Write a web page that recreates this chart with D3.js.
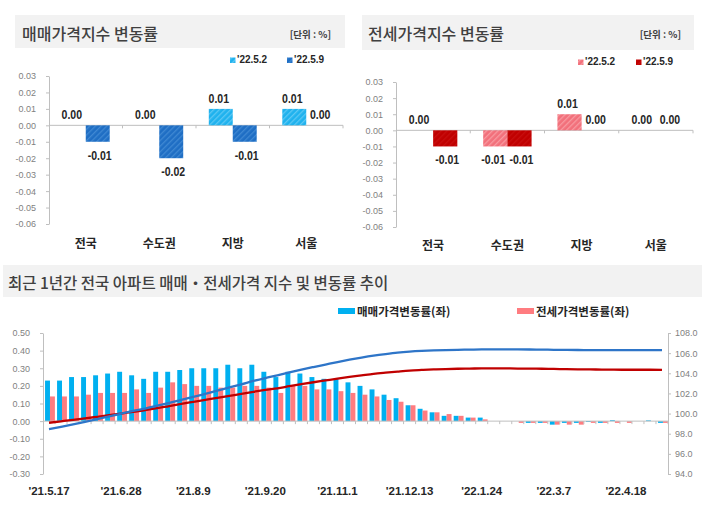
<!DOCTYPE html>
<html><head><meta charset="utf-8">
<script src="https://cdn.jsdelivr.net/npm/d3@7"></script>
<style>
body{margin:0;background:#fff;}
svg{display:block;}
</style></head><body>
<svg id="c" width="710" height="510"></svg>
<script>
// ---------- data ----------
const regions = ["전국", "수도권", "지방", "서울"];
const periods = ["'22.5.2", "'22.5.9"];
const saleChange0502 = [0.00, 0.00, 0.01, 0.01];
const saleChange0509 = [-0.01, -0.02, -0.01, 0.00];
const jeonseChange0502 = [0.00, -0.01, 0.01, 0.00];
const jeonseChange0509 = [-0.01, -0.01, 0.00, 0.00];
const topTicks = [0.03, 0.02, 0.01, 0.00, -0.01, -0.02, -0.03, -0.04, -0.05, -0.06];
const topTickLabels = ["0.03", "0.02", "0.01", "0.00", "-0.01", "-0.02", "-0.03", "-0.04", "-0.05", "-0.06"];

const weeks = ["21.5.17","21.5.24","21.5.31","21.6.7","21.6.14","21.6.21","21.6.28","21.7.5","21.7.12","21.7.19",
  "21.7.26","21.8.2","21.8.9","21.8.16","21.8.23","21.8.30","21.9.6","21.9.13","21.9.20","21.9.27",
  "21.10.4","21.10.11","21.10.18","21.10.25","21.11.1","21.11.8","21.11.15","21.11.22","21.11.29","21.12.6",
  "21.12.13","21.12.20","21.12.27","22.1.3","22.1.10","22.1.17","22.1.24","22.1.31","22.2.7","22.2.14",
  "22.2.21","22.2.28","22.3.7","22.3.14","22.3.21","22.3.28","22.4.4","22.4.11","22.4.18","22.4.25",
  "22.5.2","22.5.9"];
const weekTickWeeks = ["21.5.17","21.6.28","21.8.9","21.9.20","21.11.1","21.12.13","22.1.24","22.3.7","22.4.18"];
const weekTickLabels = ["'21.5.17","'21.6.28","'21.8.9","'21.9.20","'21.11.1","'21.12.13","'22.1.24","'22.3.7","'22.4.18"];

const saleWeekly = [0.23,0.23,0.25,0.25,0.26,0.27,0.28,0.26,0.24,0.28,
  0.28,0.29,0.30,0.30,0.30,0.32,0.30,0.32,0.28,0.25,
  0.28,0.27,0.25,0.24,0.24,0.22,0.20,0.18,0.15,0.13,
  0.09,0.07,0.05,0.03,0.03,0.02,0.02,0.00,0.00,0.00,
  -0.01,-0.01,-0.02,-0.01,-0.01,-0.005,-0.01,0.005,0.00,0.00,
  0.004,-0.01];
const jeonseWeekly = [0.14,0.14,0.14,0.15,0.16,0.16,0.16,0.18,0.16,0.19,
  0.22,0.21,0.20,0.20,0.19,0.19,0.20,0.20,0.19,0.16,
  0.20,0.20,0.18,0.18,0.17,0.16,0.15,0.14,0.12,0.11,
  0.09,0.06,0.05,0.04,0.03,0.02,0.01,0.00,0.00,-0.01,
  -0.01,-0.01,-0.02,-0.02,-0.02,-0.01,-0.01,-0.01,-0.01,0.00,
  0.00,-0.01];
const saleIndex = [98.46,98.69,98.93,99.18,99.44,99.71,100.00,100.26,100.50,100.78,
  101.06,101.35,101.65,101.96,102.27,102.60,102.91,103.24,103.53,103.79,
  104.08,104.36,104.62,104.87,105.12,105.35,105.56,105.75,105.91,106.05,
  106.15,106.22,106.27,106.30,106.33,106.35,106.37,106.37,106.37,106.37,
  106.36,106.35,106.33,106.32,106.31,106.30,106.29,106.30,106.30,106.30,
  106.30,106.29];
const jeonseIndex = [99.09,99.23,99.37,99.52,99.68,99.84,100.00,100.18,100.34,100.53,
  100.75,100.96,101.16,101.36,101.55,101.75,101.95,102.15,102.35,102.51,
  102.72,102.92,103.11,103.29,103.47,103.64,103.79,103.94,104.06,104.17,
  104.27,104.33,104.38,104.42,104.45,104.47,104.48,104.48,104.48,104.47,
  104.46,104.45,104.43,104.41,104.39,104.38,104.37,104.36,104.35,104.35,
  104.35,104.34];
const leftTicks = [0.5,0.4,0.3,0.2,0.1,0,-0.1,-0.2,-0.3];
const leftTickLabels = ["0.50","0.40","0.30","0.20","0.10","0.00","-0.10","-0.20","-0.30"];
const rightTicks = [108,106,104,102,100,98,96,94];
const rightTickLabels = ["108.0","106.0","104.0","102.0","100.0","98.0","96.0","94.0"];
const legendBottom = ["매매가격변동률(좌)", "전세가격변동률(좌)"];

// ---------- drawing ----------
const svg = d3.select("#c");
const defs = svg.append("defs");
const KR = "'Noto Sans CJK KR', 'Noto Sans', sans-serif";
const NUM = "'Liberation Sans', Arial, sans-serif";

function hatch(id, base, stripe) {
  const p = defs.append("pattern").attr("id", id).attr("patternUnits", "userSpaceOnUse")
    .attr("width", 4).attr("height", 4).attr("patternTransform", "rotate(45)");
  p.append("rect").attr("width", 4).attr("height", 4).attr("fill", base);
  p.append("rect").attr("width", 1.3).attr("height", 4).attr("fill", stripe);
}
hatch("hLightBlue", "#1FB2EE", "#5CC8F4");
hatch("hDarkBlue", "#1F6EC4", "#3F88D3");
hatch("hPink", "#F2707B", "#F89AA1");
hatch("hRed", "#C00000", "#C80E0E");

function topPanel(cfg) {
  const g = svg.append("g");
  g.append("rect").attr("x", cfg.hx).attr("y", cfg.hy).attr("width", cfg.hw).attr("height", cfg.hh).attr("fill", "#F2F2F2");
  g.append("text").attr("x", cfg.tx).attr("y", cfg.ty).text(cfg.title)
    .attr("font-family", KR).attr("font-size", 16).attr("font-weight", 500).attr("fill", "#404040");
  g.append("text").attr("x", cfg.ux).attr("y", cfg.ty - 2).attr("text-anchor", "end").text("[단위 : %]")
    .attr("font-family", KR).attr("font-size", 9.5).attr("font-weight", 700).attr("fill", "#404040");
  // legend
  cfg.legend.forEach((lx, i) => {
    g.append("rect").attr("x", lx).attr("y", cfg.ly - 5.5).attr("width", 5.5).attr("height", 5.5).attr("fill", cfg.fills[i]);
    g.append("text").attr("x", lx + 7).attr("y", cfg.ly).text(periods[i])
      .attr("font-family", NUM).attr("font-size", 10).attr("font-weight", 700).attr("fill", "#262626");
  });
  const y = d3.scaleLinear().domain([-0.06, 0.03]).range([cfg.yBot, cfg.yTop]);
  const x = d3.scaleBand().domain(regions).range([cfg.x0, cfg.x1]);
  const bw = x.bandwidth() * 0.326;
  // y axis
  const ax = g.append("g").attr("transform", `translate(${cfg.x0},0)`)
    .call(d3.axisLeft(y).tickValues(topTicks).tickFormat((d, i) => topTickLabels[i]).tickSize(3).tickSizeOuter(0).tickPadding(10));
  ax.selectAll("path,line").attr("stroke", "#BFBFBF");
  ax.selectAll("text").attr("font-family", NUM).attr("font-size", 9).attr("fill", "#7F7F7F");
  // zero line + category ticks
  g.append("line").attr("x1", cfg.x0).attr("x2", cfg.x1).attr("y1", y(0)).attr("y2", y(0)).attr("stroke", "#BFBFBF");
  regions.forEach((r, i) => {
    const bx = x(r) + x.bandwidth();
    g.append("line").attr("x1", bx).attr("x2", bx).attr("y1", y(0)).attr("y2", y(0) + 3).attr("stroke", "#BFBFBF");
  });
  // bars
  [cfg.s1, cfg.s2].forEach((vals, si) => {
    vals.forEach((v, i) => {
      const cx = x(regions[i]) + x.bandwidth() / 2;
      const bx = si === 0 ? cx - bw : cx;
      if (v !== 0) {
        g.append("rect").attr("x", bx).attr("width", bw)
          .attr("y", Math.min(y(v), y(0))).attr("height", Math.abs(y(v) - y(0)))
          .attr("fill", cfg.fills[si]);
      }
      const lbl = v.toFixed(2);
      const ly = v >= 0 ? y(v) - 6 : y(v) + 18;
      const lx = bx + bw / 2 + (si === 0 ? -2 : 2);
      g.append("text").attr("transform", `translate(${lx},${ly}) scale(0.78,1)`)
        .attr("text-anchor", "middle").text(lbl)
        .attr("font-family", NUM).attr("font-size", 13.5).attr("font-weight", 700).attr("fill", "#262626");
    });
  });
  // category labels
  regions.forEach(r => {
    g.append("text").attr("x", x(r) + x.bandwidth() / 2).attr("y", cfg.cy).attr("text-anchor", "middle").text(r)
      .attr("font-family", KR).attr("font-size", 12).attr("font-weight", 700).attr("fill", "#262626");
  });
}

topPanel({
  hx: 15, hy: 15, hw: 330, hh: 33, tx: 22, ty: 40, ux: 331, title: "매매가격지수 변동률",
  legend: [230, 287], ly: 63, fills: ["url(#hLightBlue)", "url(#hDarkBlue)"],
  x0: 49, x1: 343, yTop: 76, yBot: 224, cy: 248,
  s1: saleChange0502, s2: saleChange0509
});
topPanel({
  hx: 362, hy: 15, hw: 332, hh: 35, tx: 368, ty: 40, ux: 681, title: "전세가격지수 변동률",
  legend: [578, 636], ly: 65, fills: ["url(#hPink)", "url(#hRed)"],
  x0: 396, x1: 693, yTop: 82, yBot: 227, cy: 250,
  s1: jeonseChange0502, s2: jeonseChange0509
});

// ---------- bottom chart ----------
(function () {
  const g = svg.append("g");
  g.append("rect").attr("x", 3).attr("y", 265).attr("width", 699).attr("height", 32).attr("fill", "#F2F2F2");
  g.append("text").attr("x", 8).attr("y", 289).text("최근 1년간 전국 아파트 매매・전세가격 지수 및 변동률 추이")
    .attr("font-family", KR).attr("font-size", 15.5).attr("font-weight", 500).attr("fill", "#404040");
  // legend
  const legX = [338, 517], legC = ["#00B0F0", "#FF7C80"];
  legendBottom.forEach((t, i) => {
    g.append("rect").attr("x", legX[i]).attr("y", 308).attr("width", 17).attr("height", 6).attr("fill", legC[i]);
    g.append("text").attr("x", legX[i] + 19).attr("y", 316).text(t)
      .attr("font-family", KR).attr("font-size", 11.5).attr("font-weight", 700).attr("fill", "#262626");
  });
  const x = d3.scaleBand().domain(weeks).range([43, 668]);
  const bw = x.bandwidth();
  const yL = d3.scaleLinear().domain([-0.3, 0.5]).range([474, 333]);
  const yR = d3.scaleLinear().domain([94, 108]).range([474, 333]);
  // axes
  const al = g.append("g").attr("transform", "translate(43,0)")
    .call(d3.axisLeft(yL).tickValues(leftTicks).tickFormat((d, i) => leftTickLabels[i]).tickSize(3).tickSizeOuter(0).tickPadding(10));
  const ar = g.append("g").attr("transform", "translate(668,0)")
    .call(d3.axisRight(yR).tickValues(rightTicks).tickFormat((d, i) => rightTickLabels[i]).tickSize(3).tickSizeOuter(0).tickPadding(4));
  [al, ar].forEach(a => {
    a.selectAll("path,line").attr("stroke", "#BFBFBF");
    a.selectAll("text").attr("font-family", NUM).attr("font-size", 9).attr("fill", "#7F7F7F");
  });
  // bars
  g.append("g").selectAll("rect").data(weeks).join("rect")
    .attr("x", w => x(w) + bw * 0.17).attr("width", bw * 0.41)
    .attr("y", (w, i) => Math.min(yL(saleWeekly[i]), yL(0)))
    .attr("height", (w, i) => Math.abs(yL(saleWeekly[i]) - yL(0)))
    .attr("fill", "#00B0F0");
  g.append("g").selectAll("rect").data(weeks).join("rect")
    .attr("x", w => x(w) + bw * 0.58).attr("width", bw * 0.41)
    .attr("y", (w, i) => Math.min(yL(jeonseWeekly[i]), yL(0)))
    .attr("height", (w, i) => Math.abs(yL(jeonseWeekly[i]) - yL(0)))
    .attr("fill", "#FF7C80");
  // zero line and ticks
  g.append("line").attr("x1", 43).attr("x2", 668).attr("y1", yL(0)).attr("y2", yL(0)).attr("stroke", "#BFBFBF");
  g.append("g").selectAll("line").data(weeks).join("line")
    .attr("x1", w => x(w) + bw).attr("x2", w => x(w) + bw)
    .attr("y1", yL(0)).attr("y2", yL(0) + 3).attr("stroke", "#BFBFBF");
  // lines
  const ln = arr => d3.line().x((d, i) => x(weeks[i]) + bw / 2).y(d => yR(d)).curve(d3.curveMonotoneX)(arr);
  g.append("path").attr("d", ln(jeonseIndex)).attr("fill", "none").attr("stroke", "#C00000").attr("stroke-width", 2.3);
  g.append("path").attr("d", ln(saleIndex)).attr("fill", "none").attr("stroke", "#2E75C8").attr("stroke-width", 2.3);
  // x labels
  weekTickWeeks.forEach((w, i) => {
    g.append("text").attr("x", x(w) + bw / 2).attr("y", 495).attr("text-anchor", "middle").text(weekTickLabels[i])
      .attr("font-family", NUM).attr("font-size", 11.5).attr("font-weight", 700).attr("fill", "#262626");
  });
})();
</script>
</body></html>
